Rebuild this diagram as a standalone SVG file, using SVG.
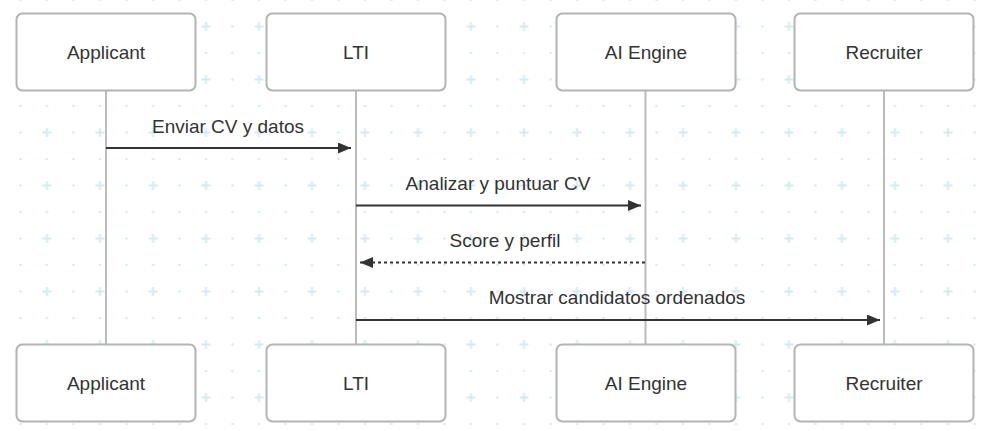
<svg xmlns="http://www.w3.org/2000/svg" width="984" height="431" viewBox="0 0 984 431">
<defs>
<pattern id="bg" x="20.5" y="0" width="53" height="53" patternUnits="userSpaceOnUse">
<circle cx="0" cy="0" r="1.3" fill="#d3ebef"/>
<circle cx="26.5" cy="0" r="1.3" fill="#d3ebef"/>
<circle cx="53" cy="0" r="1.3" fill="#d3ebef"/>
<circle cx="0" cy="26.5" r="1.3" fill="#d3ebef"/>
<circle cx="53" cy="26.5" r="1.3" fill="#d3ebef"/>
<circle cx="0" cy="53" r="1.3" fill="#d3ebef"/>
<circle cx="26.5" cy="53" r="1.3" fill="#d3ebef"/>
<circle cx="53" cy="53" r="1.3" fill="#d3ebef"/>
<path d="M22 26.5h9M26.5 22v9" stroke="#d3ebef" stroke-width="2"/>
</pattern>
<marker id="ah" viewBox="0 0 13 11" refX="13" refY="5.5" markerWidth="13" markerHeight="11" markerUnits="userSpaceOnUse" orient="auto">
<path d="M0 0L13 5.5L0 11z" fill="#333"/>
</marker>
</defs>
<style>
.box{fill:#fff;stroke:#b3b3b3;stroke-width:2}
.lbl{font-family:"Liberation Sans",Arial,sans-serif;font-size:19px;fill:#333;text-anchor:middle}
.life{stroke:#bbb;stroke-width:2}
.msg{stroke:#333;stroke-width:2;fill:none}
.dash{stroke-dasharray:3,3}
</style>
<rect width="984" height="431" fill="#fff"/>
<rect width="984" height="431" fill="url(#bg)"/>
<g id="lifelines">
<line class="life" x1="106" y1="91" x2="106" y2="344"/>
<line class="life" x1="356" y1="91" x2="356" y2="344"/>
<line class="life" x1="645.5" y1="91" x2="645.5" y2="344"/>
<line class="life" x1="884" y1="91" x2="884" y2="344"/>
</g>
<g id="applicant-top"><rect class="box" x="16.5" y="13.5" width="179" height="77" rx="6"/><text class="lbl" x="106" y="59">Applicant</text></g>
<g id="lti-top"><rect class="box" x="266.5" y="13.5" width="179" height="77" rx="6"/><text class="lbl" x="356" y="59">LTI</text></g>
<g id="ai-top"><rect class="box" x="556.5" y="13.5" width="179" height="77" rx="6"/><text class="lbl" x="646" y="59">AI Engine</text></g>
<g id="recruiter-top"><rect class="box" x="794.5" y="13.5" width="179" height="77" rx="6"/><text class="lbl" x="884" y="59">Recruiter</text></g>
<g id="applicant-bottom"><rect class="box" x="16.5" y="344.5" width="179" height="77" rx="6"/><text class="lbl" x="106" y="390">Applicant</text></g>
<g id="lti-bottom"><rect class="box" x="266.5" y="344.5" width="179" height="77" rx="6"/><text class="lbl" x="356" y="390">LTI</text></g>
<g id="ai-bottom"><rect class="box" x="556.5" y="344.5" width="179" height="77" rx="6"/><text class="lbl" x="646" y="390">AI Engine</text></g>
<g id="recruiter-bottom"><rect class="box" x="794.5" y="344.5" width="179" height="77" rx="6"/><text class="lbl" x="884" y="390">Recruiter</text></g>
<g id="connectors">
<line class="msg" x1="106" y1="148" x2="351" y2="148" marker-end="url(#ah)"/>
<text class="lbl" x="228" y="133">Enviar CV y datos</text>
<line class="msg" x1="356" y1="205.5" x2="641" y2="205.5" marker-end="url(#ah)"/>
<text class="lbl" x="498" y="190">Analizar y puntuar CV</text>
<line class="msg dash" x1="645" y1="262.5" x2="360" y2="262.5" marker-end="url(#ah)"/>
<text class="lbl" x="505" y="247">Score y perfil</text>
<line class="msg" x1="356" y1="320" x2="880" y2="320" marker-end="url(#ah)"/>
<text class="lbl" x="617" y="304">Mostrar candidatos ordenados</text>
</g>
</svg>
